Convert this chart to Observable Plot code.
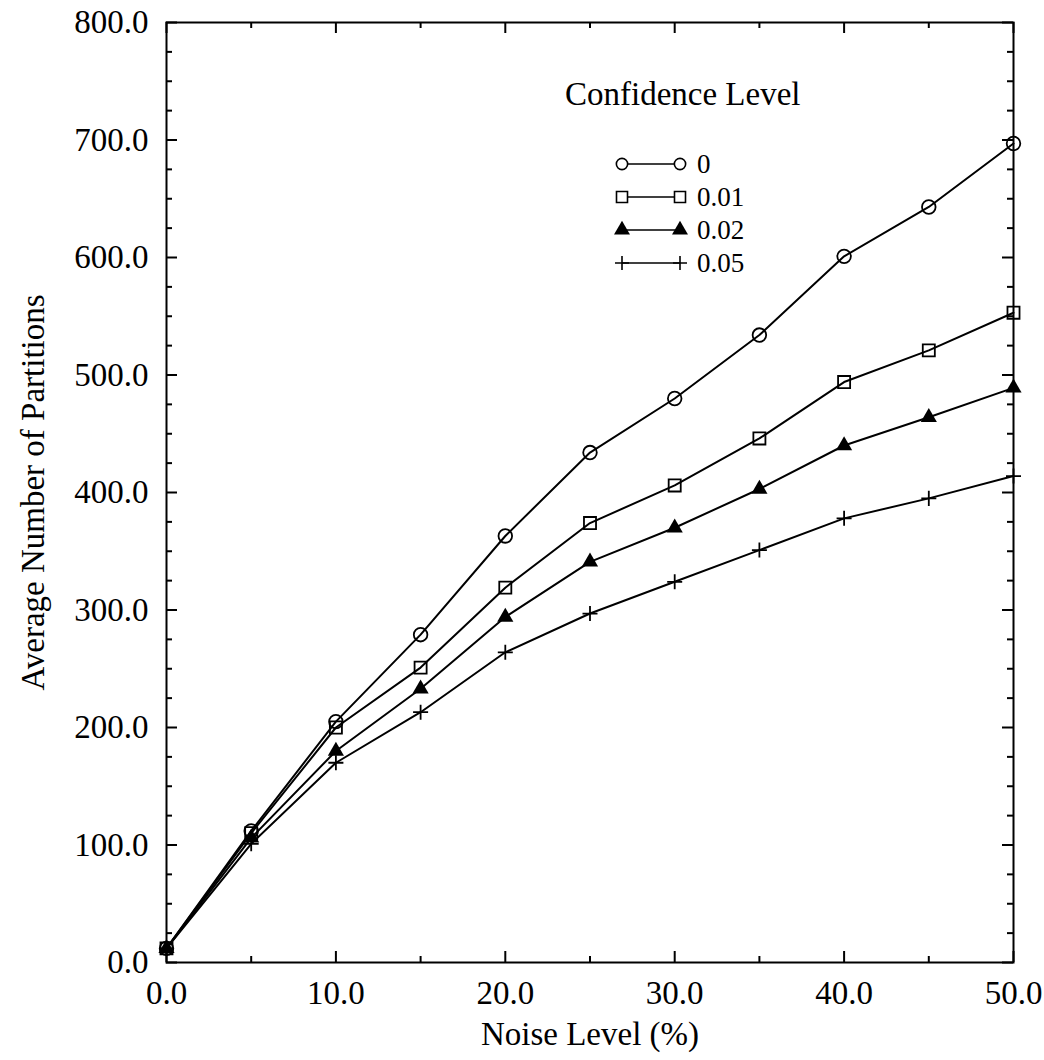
<!DOCTYPE html>
<html><head><meta charset="utf-8">
<script src="https://cdn.jsdelivr.net/npm/d3@7"></script>
<script src="https://cdn.jsdelivr.net/npm/@observablehq/plot@0.6"></script>
<style>
body{margin:0;background:#fff;}
#wrap{position:relative;width:1044px;height:1060px;overflow:hidden;}
#legend{position:absolute;left:0;top:0;pointer-events:none;}
</style></head><body><div id="wrap"></div>
<script>
// ---- data ----
const noise = [0, 5, 10, 15, 20, 25, 30, 35, 40, 45, 50];
const conf0    = [12, 112, 205, 279, 363, 434, 480, 534, 601, 643, 697];
const conf001  = [12, 110, 200, 251, 319, 374, 406, 446, 494, 521, 553];
const conf002  = [12, 106, 180, 233, 294, 341, 370, 403, 440, 464, 489];
const conf005  = [12, 101, 170, 213, 264, 297, 324, 351, 378, 395, 414];
const seriesNames = ["0", "0.01", "0.02", "0.05"];
const seriesValues = [conf0, conf001, conf002, conf005];
const seriesSymbols = ["circle", "square", "triangle", "plus"];
const yMajor = [0, 100, 200, 300, 400, 500, 600, 700, 800];
const yMinor = [25, 50, 75, 125, 150, 175, 225, 250, 275, 325, 350, 375, 425, 450, 475, 525, 550, 575, 625, 650, 675, 725, 750, 775];
const xMajor = [0, 10, 20, 30, 40, 50];
const xMinor = [5, 15, 25, 35, 45];
const legendTitle = "Confidence Level";
const xTitle = "Noise Level (%)";
const yTitle = "Average Number of Partitions";

// ---- layout ----
const W = 1044, H = 1060;
const mL = 166, mR = 31, mT = 22, mB = 98;
const fw = W - mL - mR, fh = H - mT - mB;
const FONT = "'Liberation Serif', 'Times New Roman', serif";
const symR = {circle: 6.8, square: 6.8, triangle: 6, plus: 4.9};

const rows = [];
seriesNames.forEach((s, i) => noise.forEach((x, j) => rows.push({series: s, sym: seriesSymbols[i], x, y: seriesValues[i][j]})));

const marks = [
  Plot.frame({stroke: "black", strokeWidth: 2}),
  // inward ticks
  Plot.tickY(yMajor, {y: d => d, insetRight: fw - 11, strokeWidth: 2}),
  Plot.tickY(yMinor, {y: d => d, insetRight: fw - 6, strokeWidth: 2}),
  Plot.tickY(yMajor, {y: d => d, insetLeft: fw - 11, strokeWidth: 2}),
  Plot.tickY(yMinor, {y: d => d, insetLeft: fw - 6, strokeWidth: 2}),
  Plot.tickX(xMajor, {x: d => d, insetTop: fh - 11, strokeWidth: 2}),
  Plot.tickX(xMinor, {x: d => d, insetTop: fh - 6, strokeWidth: 2}),
  Plot.tickX(xMajor, {x: d => d, insetBottom: fh - 11, strokeWidth: 2}),
  Plot.tickX(xMinor, {x: d => d, insetBottom: fh - 6, strokeWidth: 2}),
  Plot.axisY({ticks: yMajor, tickSize: 0, tickPadding: 18, tickFormat: d => d.toFixed(1), fontSize: 33,
    label: yTitle, labelAnchor: "center", labelArrow: "none", labelOffset: 146}),
  Plot.axisX({ticks: xMajor, tickSize: 0, tickPadding: 18, tickFormat: d => d.toFixed(1), fontSize: 33,
    label: xTitle, labelAnchor: "center", labelArrow: "none", labelOffset: 82}),
  Plot.line(rows, {x: "x", y: "y", z: "series", stroke: "black", strokeWidth: 2})
];
seriesSymbols.forEach((sym, i) => {
  marks.push(Plot.dot(rows.filter(d => d.sym === sym), {
    x: "x", y: "y", symbol: sym, r: symR[sym],
    fill: sym === "triangle" ? "black" : "none",
    stroke: "black", strokeWidth: sym === "triangle" ? 0 : 1.8
  }));
});

const chart = Plot.plot({
  width: W, height: H,
  marginLeft: mL, marginRight: mR, marginTop: mT, marginBottom: mB,
  x: {domain: [0, 50]},
  y: {domain: [0, 800]},
  style: {fontFamily: FONT, fontSize: "33px", color: "black", background: "white"},
  marks
});
const wrap = document.getElementById("wrap");
wrap.appendChild(chart);

// ---- legend (overlay) ----
const lg = d3.select(wrap).append("svg").attr("id", "legend").attr("width", W).attr("height", H)
  .style("font-family", FONT);
lg.append("text").attr("x", 565).attr("y", 105).attr("font-size", 33).text(legendTitle);
const rowY = [164, 197, 230, 263];
const lsz = {circle: 100, square: 121, triangle: 110, plus: 66};
const d3sym = {circle: d3.symbolCircle, square: d3.symbolSquare, triangle: d3.symbolTriangle, plus: d3.symbolPlus};
seriesNames.forEach((name, i) => {
  const sym = seriesSymbols[i], y = rowY[i];
  const g = lg.append("g");
  g.append("line").attr("x1", 622).attr("x2", 680).attr("y1", y).attr("y2", y).attr("stroke", "black").attr("stroke-width", 1.5);
  [622, 680].forEach(x => g.append("path")
    .attr("transform", `translate(${x},${y})`)
    .attr("d", d3.symbol(d3sym[sym], lsz[sym])())
    .attr("fill", sym === "triangle" ? "black" : (sym === "plus" ? "none" : "white"))
    .attr("stroke", sym === "triangle" ? "none" : "black").attr("stroke-width", 1.6));
  g.append("text").attr("x", 697).attr("y", y + 9).attr("font-size", 27).text(name);
});
</script></body></html>
